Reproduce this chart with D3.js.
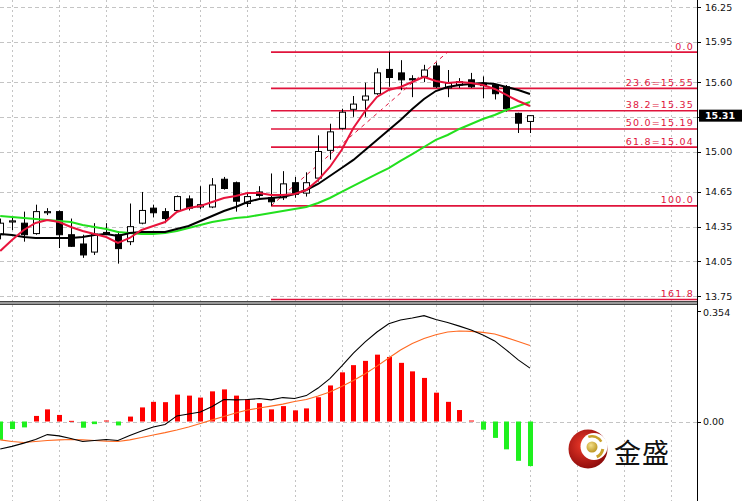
<!DOCTYPE html>
<html><head><meta charset="utf-8">
<script src="https://cdn.jsdelivr.net/npm/d3@7"></script>
<style>body{margin:0;background:#fff;overflow:hidden} svg{display:block}</style>
</head><body>
<svg id="c" width="742" height="501"></svg>
<script>
// ---------- data ----------
const barIndex = d3.range(46);
const opens  = [14.28,14.39,14.38,14.29,14.47,14.48,14.28,14.20,14.13,14.30,14.28,14.22,14.38,14.51,14.48,14.49,14.59,14.52,14.52,14.76,14.73,14.55,14.65,14.60,14.60,14.73,14.64,14.77,15.01,15.20,15.365,15.445,15.50,15.71,15.68,15.63,15.65,15.74,15.55,15.575,15.62,15.58,15.575,15.56,15.33,15.26];
const highs  = [14.42,14.43,14.48,14.54,14.51,14.49,14.42,14.28,14.38,14.38,14.31,14.55,14.65,14.54,14.51,14.62,14.62,14.70,14.77,14.78,14.74,14.65,14.70,14.81,14.83,14.78,14.82,15.14,15.24,15.37,15.48,15.595,15.72,15.86,15.79,15.66,15.75,15.77,15.705,15.635,15.68,15.65,15.58,15.575,15.335,15.315];
const lows   = [14.24,14.32,14.22,14.28,14.45,14.165,14.175,14.08,14.105,14.28,14.03,14.19,14.37,14.43,14.38,14.48,14.49,14.50,14.51,14.67,14.48,14.52,14.60,14.53,14.58,14.60,14.61,14.74,14.93,15.19,15.30,15.30,15.49,15.56,15.53,15.47,15.60,15.55,15.47,15.55,15.55,15.46,15.45,15.345,15.16,15.16];
const closes = [14.38,14.40,14.28,14.48,14.48,14.28,14.18,14.105,14.285,14.29,14.16,14.35,14.49,14.47,14.42,14.61,14.51,14.54,14.71,14.68,14.57,14.61,14.62,14.565,14.72,14.63,14.73,15.00,15.17,15.34,15.41,15.48,15.68,15.64,15.62,15.62,15.705,15.56,15.59,15.605,15.56,15.57,15.50,15.37,15.245,15.31];

const maRed   = [14.139,14.235,14.321,14.382,14.408,14.390,14.347,14.312,14.286,14.260,14.209,14.252,14.321,14.356,14.390,14.477,14.511,14.529,14.563,14.598,14.615,14.641,14.641,14.624,14.624,14.632,14.667,14.754,14.866,15.013,15.203,15.350,15.472,15.532,15.558,15.601,15.645,15.610,15.593,15.601,15.593,15.575,15.541,15.489,15.437,15.394];
const maBlack = [14.286,14.278,14.260,14.252,14.252,14.252,14.252,14.260,14.278,14.286,14.269,14.295,14.304,14.304,14.304,14.330,14.356,14.399,14.442,14.485,14.520,14.563,14.589,14.598,14.607,14.632,14.667,14.719,14.788,14.857,14.927,15.013,15.100,15.186,15.273,15.368,15.454,15.523,15.558,15.575,15.584,15.593,15.584,15.558,15.532,15.497];
const maGreen = [14.442,14.433,14.425,14.416,14.408,14.399,14.390,14.364,14.347,14.330,14.304,14.295,14.286,14.286,14.295,14.312,14.338,14.364,14.390,14.408,14.425,14.433,14.451,14.468,14.485,14.503,14.520,14.555,14.598,14.650,14.702,14.754,14.806,14.857,14.918,14.978,15.039,15.100,15.143,15.195,15.238,15.281,15.316,15.359,15.394,15.428];

const macdHist   = [-0.056,-0.023,-0.018,0.017,0.037,0.020,0.002,-0.019,-0.008,0.003,-0.012,0.015,0.043,0.060,0.059,0.082,0.079,0.073,0.092,0.098,0.079,0.068,0.056,0.037,0.047,0.034,0.040,0.074,0.110,0.150,0.172,0.185,0.204,0.197,0.179,0.153,0.133,0.088,0.060,0.035,0.003,-0.025,-0.050,-0.085,-0.120,-0.136];
const macdLine   = [-0.084,-0.076,-0.066,-0.055,-0.040,-0.044,-0.052,-0.061,-0.058,-0.055,-0.058,-0.043,-0.029,-0.017,-0.009,0.017,0.023,0.029,0.046,0.067,0.066,0.067,0.070,0.066,0.073,0.070,0.079,0.102,0.131,0.169,0.209,0.243,0.273,0.298,0.310,0.316,0.323,0.311,0.302,0.291,0.279,0.264,0.246,0.218,0.188,0.163];
const macdSignal = [-0.056,-0.061,-0.064,-0.061,-0.058,-0.056,-0.055,-0.056,-0.058,-0.060,-0.061,-0.056,-0.049,-0.041,-0.034,-0.026,-0.017,-0.006,0.005,0.015,0.026,0.035,0.041,0.047,0.053,0.061,0.067,0.078,0.090,0.107,0.125,0.146,0.169,0.194,0.218,0.238,0.253,0.265,0.273,0.276,0.275,0.272,0.267,0.256,0.244,0.232];

const priceTicks  = [16.25,15.95,15.60,15.30,15.00,14.65,14.35,14.05,13.75];
const priceLabels = ["16.25","15.95","15.60","","15.00","14.65","14.35","14.05","13.75"];
const macdTicks   = [0.354,0.00];
const macdLabels  = ["0.354","0.00"];
const fibLabels   = ["0.0","23.6=15.55","38.2=15.35","50.0=15.19","61.8=15.04","100.0","161.8"];
const fibPrices   = [15.86,15.546,15.352,15.195,15.038,14.53,13.72];
const fibStartBar = 23, fibStartPrice = 14.53;
const fibEndBar   = 38, fibEndPrice   = 15.86;
const lastPrice = 15.31, lastLabel = "15.31";
const gridBars = d3.range(1, 58, 4);

// ---------- layout ----------
const W = 742, H = 501, PR = 697;
const mainTop = 0, mainBot = 301, subTop = 305, subBot = 501;
const svg = d3.select("#c");
const x = d3.scaleLinear().domain([1,45]).range([12,530]);
const y = d3.scaleLinear().domain([13.75,16.25]).range([296,7]);
const ym = d3.scaleLinear().domain([0,0.354]).range([421.5,305.5]);

const defs = svg.append("defs");
defs.append("clipPath").attr("id","cm").append("rect").attr("x",0).attr("y",mainTop).attr("width",PR).attr("height",mainBot-mainTop);
defs.append("clipPath").attr("id","cs").append("rect").attr("x",0).attr("y",subTop).attr("width",PR).attr("height",subBot-subTop);

const gridCol = "#c4c4c4";
svg.append("g").selectAll("line").data(gridBars).join("line")
  .attr("x1",d=>Math.round(x(d))+0.5).attr("x2",d=>Math.round(x(d))+0.5)
  .attr("y1",0).attr("y2",H).attr("stroke",gridCol).attr("stroke-dasharray","2,3");
svg.append("g").selectAll("line").data(priceTicks).join("line")
  .attr("x1",0).attr("x2",PR).attr("y1",d=>Math.round(y(d))+0.5).attr("y2",d=>Math.round(y(d))+0.5)
  .attr("stroke",gridCol).attr("stroke-dasharray","4,3");
svg.append("line").attr("x1",0).attr("x2",PR).attr("y1",Math.round(ym(0))+0.5).attr("y2",Math.round(ym(0))+0.5)
  .attr("stroke",gridCol).attr("stroke-dasharray","4,3");

// ---------- main panel ----------
const gm = svg.append("g").attr("clip-path","url(#cm)");
const fibCol = "#e0143c";
gm.append("g").selectAll("line").data(fibPrices).join("line")
  .attr("x1",x(fibStartBar)).attr("x2",PR)
  .attr("y1",d=>y(d)).attr("y2",d=>y(d))
  .attr("stroke",fibCol).attr("stroke-width",1.6);
gm.append("line")
  .attr("x1",x(fibStartBar)).attr("y1",y(fibStartPrice))
  .attr("x2",x(fibEndBar)).attr("y2",y(fibEndPrice))
  .attr("stroke",fibCol).attr("stroke-width",1).attr("stroke-dasharray","4,4");

const cg = gm.append("g");
cg.selectAll("line").data(barIndex).join("line")
  .attr("x1",i=>Math.round(x(i))+0.5).attr("x2",i=>Math.round(x(i))+0.5)
  .attr("y1",i=>y(highs[i])).attr("y2",i=>y(lows[i]))
  .attr("stroke","#000").attr("stroke-width",1);
cg.selectAll("rect").data(barIndex).join("rect")
  .attr("x",i=>Math.round(x(i))-2.5).attr("width",6)
  .attr("y",i=>y(Math.max(opens[i],closes[i])))
  .attr("height",i=>Math.max(1,Math.abs(y(opens[i])-y(closes[i]))))
  .attr("fill",i=>closes[i]>=opens[i]?"#fff":"#000")
  .attr("stroke","#000").attr("stroke-width",1);

const lineP = arr => d3.line().x((d,i)=>x(i)).y(d=>y(d))(arr);
gm.append("path").attr("d",lineP(maGreen)).attr("fill","none").attr("stroke","#22e01e").attr("stroke-width",2);
gm.append("path").attr("d",lineP(maBlack)).attr("fill","none").attr("stroke","#000").attr("stroke-width",2);
gm.append("path").attr("d",lineP(maRed)).attr("fill","none").attr("stroke","#e8143c").attr("stroke-width",2);

svg.append("g").selectAll("text").data(fibPrices).join("text")
  .attr("x",694).attr("y",d=>y(d)-2.5).attr("text-anchor","end")
  .attr("font-family","DejaVu Sans").attr("font-size",9.5).attr("letter-spacing",1.2)
  .attr("fill",fibCol).text((d,i)=>fibLabels[i]);

// ---------- MACD panel ----------
const gs = svg.append("g").attr("clip-path","url(#cs)");
gs.selectAll("rect").data(barIndex).join("rect")
  .attr("x",i=>Math.round(x(i))-2).attr("width",5)
  .attr("y",i=>Math.min(ym(0),ym(macdHist[i])))
  .attr("height",i=>Math.max(1,Math.abs(ym(macdHist[i])-ym(0))))
  .attr("fill",i=>macdHist[i]>=0?"#ff0000":"#1ef01e");
const lineM = arr => d3.line().x((d,i)=>x(i)).y(d=>ym(d))(arr);
gs.append("path").attr("d",lineM(macdSignal)).attr("fill","none").attr("stroke","#ff6a22").attr("stroke-width",1.1);
gs.append("path").attr("d",lineM(macdLine)).attr("fill","none").attr("stroke","#000").attr("stroke-width",1.1);

// separator
svg.append("rect").attr("x",0).attr("y",301).attr("width",PR).attr("height",3.5).attr("fill","#9a9a9a");
svg.append("line").attr("x1",0).attr("x2",PR).attr("y1",301.5).attr("y2",301.5).attr("stroke","#444");
svg.append("line").attr("x1",0).attr("x2",PR).attr("y1",304.5).attr("y2",304.5).attr("stroke","#444");

// right axis
svg.append("line").attr("x1",PR+0.5).attr("x2",PR+0.5).attr("y1",0).attr("y2",H).attr("stroke","#000");
const axg = svg.append("g");
axg.selectAll("line").data(priceTicks).join("line")
  .attr("x1",PR).attr("x2",PR+4).attr("y1",d=>Math.round(y(d))+0.5).attr("y2",d=>Math.round(y(d))+0.5).attr("stroke","#000");
axg.selectAll("text").data(priceTicks.filter((d,i)=>priceLabels[i]!=="")).join("text")
  .attr("x",705).attr("y",d=>y(d)+3.5)
  .attr("font-family","DejaVu Sans").attr("font-size",9.5).attr("fill","#111")
  .text(d=>priceLabels[priceTicks.indexOf(d)]);
const sxg = svg.append("g");
sxg.selectAll("text").data(macdTicks).join("text")
  .attr("x",703).attr("y",(d,i)=>i===0?ym(d)+10:ym(d)+3.5)
  .attr("font-family","DejaVu Sans").attr("font-size",9.5).attr("fill","#111")
  .text((d,i)=>macdLabels[i]);
sxg.selectAll("line").data(macdTicks).join("line")
  .attr("x1",PR).attr("x2",PR+4).attr("y1",(d,i)=>i===0?ym(d)+6:Math.round(ym(d))+0.5).attr("y2",(d,i)=>i===0?ym(d)+6:Math.round(ym(d))+0.5).attr("stroke","#000");

// last price box
svg.append("rect").attr("x",PR+2).attr("y",y(lastPrice)-6).attr("width",W-PR-2).attr("height",12).attr("fill","#000");
svg.append("text").attr("x",705).attr("y",y(lastPrice)+3.5)
  .attr("font-family","DejaVu Sans").attr("font-size",9.5).attr("font-weight","bold").attr("fill","#fff").text(lastLabel);

// ---------- logo ----------
const rg = defs.append("radialGradient").attr("id","rg").attr("cx","40%").attr("cy","40%").attr("r","65%");
rg.append("stop").attr("offset","0%").attr("stop-color","#f03a2a");
rg.append("stop").attr("offset","100%").attr("stop-color","#8a0a0a");
const gg = defs.append("radialGradient").attr("id","gg").attr("cx","40%").attr("cy","35%").attr("r","70%");
gg.append("stop").attr("offset","0%").attr("stop-color","#f4e08a");
gg.append("stop").attr("offset","100%").attr("stop-color","#b8921c");
const logo = svg.append("g").attr("transform","translate(588,449)");
logo.append("circle").attr("r",19.5).attr("fill","url(#rg)");
logo.append("circle").attr("cx",6).attr("cy",-2.5).attr("r",13.5).attr("fill","#fff");
logo.append("circle").attr("cx",4).attr("cy",-2).attr("r",5.5).attr("fill","url(#gg)");
const arc1 = d3.arc().innerRadius(9.5).outerRadius(12).startAngle(-0.35).endAngle(1.05);
const arc2 = d3.arc().innerRadius(9.5).outerRadius(12.5).startAngle(1.75).endAngle(2.7);
logo.append("path").attr("transform","translate(4,-2)").attr("d",arc1()).attr("fill","#c9a12a");
logo.append("path").attr("transform","translate(4,-2)").attr("d",arc2()).attr("fill","#c9a12a");
svg.append("text").attr("x",614).attr("y",463).attr("font-family","Noto Sans CJK SC")
  .attr("font-size",27).attr("letter-spacing",1).attr("fill","#111").text("金盛");
</script>
</body></html>
